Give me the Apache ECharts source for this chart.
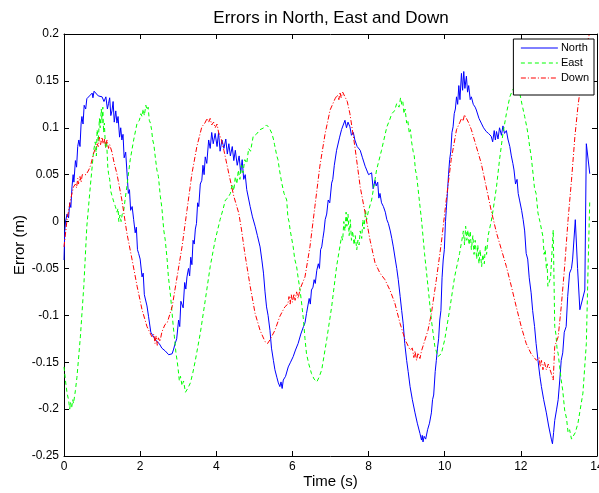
<!DOCTYPE html>
<html>
<head>
<meta charset="utf-8">
<script src="https://cdn.jsdelivr.net/npm/echarts@6/dist/echarts.min.js"></script>
<style>
  html, body { margin: 0; padding: 0; background: #fff; }
  #chart { width: 599px; height: 493px; }
</style>
</head>
<body>
<div id="chart"></div>
<script>
// ---- Data (time in s, error in m) ----
const xTicks = [0, 2, 4, 6, 8, 10, 12, 14];
const yTicks = [-0.25, -0.2, -0.15, -0.1, -0.05, 0, 0.05, 0.1, 0.15, 0.2];
const seriesNames = ['North', 'East', 'Down'];
const titleText = 'Errors in North, East and Down';

const north = [[0,-0.041],[0.02,-0.01],[0.04,0.0],[0.08,0.008],[0.12,0.004],[0.15,0.02],[0.18,0.015],[0.21,0.037],[0.24,0.05],[0.26,0.042],[0.3,0.065],[0.33,0.058],[0.36,0.08],[0.39,0.087],[0.42,0.08],[0.45,0.105],[0.47,0.112],[0.5,0.104],[0.53,0.124],[0.57,0.12],[0.6,0.131],[0.67,0.134],[0.74,0.137],[0.76,0.132],[0.79,0.139],[0.82,0.137],[0.9,0.134],[1.0,0.133],[1.05,0.128],[1.1,0.133],[1.14,0.12],[1.17,0.126],[1.2,0.132],[1.23,0.113],[1.26,0.118],[1.29,0.128],[1.32,0.106],[1.36,0.118],[1.39,0.105],[1.42,0.112],[1.46,0.09],[1.49,0.1],[1.52,0.087],[1.55,0.093],[1.58,0.068],[1.62,0.074],[1.65,0.055],[1.69,0.030],[1.72,0.034],[1.75,0.012],[1.79,0.016],[1.83,0.002],[1.87,-0.012],[1.9,-0.006],[1.93,-0.03],[1.96,-0.034],[2.0,-0.04],[2.05,-0.059],[2.08,-0.055],[2.11,-0.078],[2.14,-0.076],[2.18,-0.09],[2.22,-0.101],[2.25,-0.1],[2.28,-0.118],[2.31,-0.116],[2.37,-0.124],[2.44,-0.128],[2.5,-0.13],[2.57,-0.135],[2.66,-0.138],[2.75,-0.142],[2.8,-0.14],[2.84,-0.141],[2.88,-0.136],[2.92,-0.13],[2.96,-0.125],[3.01,-0.105],[3.04,-0.112],[3.07,-0.085],[3.1,-0.084],[3.13,-0.092],[3.17,-0.065],[3.2,-0.072],[3.23,-0.059],[3.27,-0.05],[3.3,-0.058],[3.33,-0.038],[3.36,-0.046],[3.39,-0.02],[3.42,-0.024],[3.45,-0.008],[3.48,-0.002],[3.51,0.02],[3.54,0.016],[3.58,0.04],[3.62,0.044],[3.65,0.06],[3.68,0.05],[3.71,0.069],[3.75,0.062],[3.8,0.087],[3.84,0.078],[3.88,0.095],[3.92,0.083],[3.97,0.094],[4.02,0.08],[4.06,0.095],[4.1,0.075],[4.15,0.087],[4.2,0.078],[4.25,0.088],[4.29,0.072],[4.33,0.083],[4.37,0.07],[4.42,0.08],[4.46,0.065],[4.5,0.076],[4.55,0.06],[4.6,0.07],[4.64,0.052],[4.68,0.066],[4.72,0.045],[4.76,0.05],[4.8,0.034],[4.84,0.036],[4.89,0.016],[4.95,0.005],[5.02,-0.005],[5.08,-0.015],[5.15,-0.027],[5.2,-0.042],[5.24,-0.055],[5.28,-0.075],[5.32,-0.091],[5.36,-0.1],[5.41,-0.116],[5.45,-0.135],[5.5,-0.148],[5.54,-0.158],[5.59,-0.166],[5.63,-0.172],[5.67,-0.176],[5.7,-0.171],[5.73,-0.178],[5.76,-0.169],[5.82,-0.165],[5.89,-0.155],[5.95,-0.15],[6.02,-0.144],[6.08,-0.137],[6.15,-0.13],[6.22,-0.12],[6.29,-0.112],[6.33,-0.108],[6.37,-0.098],[6.4,-0.1],[6.44,-0.082],[6.47,-0.088],[6.5,-0.073],[6.54,-0.07],[6.57,-0.062],[6.6,-0.066],[6.64,-0.052],[6.68,-0.045],[6.71,-0.05],[6.74,-0.03],[6.77,-0.027],[6.8,-0.018],[6.83,-0.01],[6.86,0.002],[6.9,0.008],[6.94,0.023],[6.98,0.02],[7.03,0.041],[7.06,0.045],[7.1,0.06],[7.13,0.058],[7.16,0.076],[7.2,0.078],[7.24,0.09],[7.29,0.098],[7.33,0.1],[7.38,0.108],[7.42,0.1],[7.46,0.106],[7.51,0.101],[7.55,0.092],[7.6,0.095],[7.64,0.087],[7.7,0.08],[7.78,0.076],[7.84,0.068],[7.91,0.059],[7.95,0.055],[8.0,0.05],[8.04,0.048],[8.08,0.052],[8.12,0.035],[8.17,0.044],[8.2,0.038],[8.24,0.042],[8.27,0.025],[8.3,0.030],[8.34,0.02],[8.39,0.016],[8.44,0.01],[8.48,0.002],[8.52,-0.002],[8.57,-0.01],[8.61,-0.018],[8.65,-0.027],[8.7,-0.04],[8.74,-0.05],[8.78,-0.062],[8.83,-0.08],[8.87,-0.095],[8.91,-0.109],[8.95,-0.13],[9.0,-0.148],[9.04,-0.16],[9.09,-0.176],[9.15,-0.19],[9.22,-0.204],[9.28,-0.215],[9.35,-0.226],[9.39,-0.233],[9.41,-0.228],[9.43,-0.235],[9.46,-0.229],[9.5,-0.232],[9.55,-0.222],[9.6,-0.215],[9.65,-0.204],[9.68,-0.19],[9.71,-0.185],[9.75,-0.16],[9.78,-0.148],[9.81,-0.135],[9.84,-0.125],[9.87,-0.105],[9.9,-0.095],[9.93,-0.06],[9.96,-0.041],[9.99,-0.03],[10.02,0.0],[10.04,0.012],[10.07,0.03],[10.1,0.05],[10.13,0.066],[10.16,0.075],[10.19,0.095],[10.22,0.101],[10.25,0.115],[10.28,0.12],[10.31,0.133],[10.34,0.125],[10.37,0.145],[10.4,0.13],[10.44,0.158],[10.47,0.14],[10.5,0.16],[10.53,0.142],[10.57,0.155],[10.6,0.138],[10.63,0.145],[10.67,0.13],[10.7,0.133],[10.75,0.125],[10.8,0.122],[10.83,0.119],[10.9,0.11],[10.96,0.105],[11.02,0.1],[11.09,0.096],[11.15,0.094],[11.22,0.091],[11.26,0.085],[11.3,0.097],[11.33,0.087],[11.36,0.096],[11.4,0.088],[11.44,0.1],[11.49,0.092],[11.53,0.102],[11.57,0.094],[11.62,0.097],[11.66,0.088],[11.71,0.080],[11.75,0.07],[11.79,0.062],[11.82,0.055],[11.86,0.04],[11.9,0.045],[11.93,0.030],[11.97,0.022],[12.02,0.012],[12.06,0.002],[12.1,-0.01],[12.14,-0.034],[12.18,-0.04],[12.22,-0.06],[12.27,-0.076],[12.31,-0.095],[12.36,-0.112],[12.4,-0.13],[12.45,-0.148],[12.5,-0.165],[12.54,-0.176],[12.6,-0.19],[12.67,-0.204],[12.73,-0.218],[12.8,-0.232],[12.83,-0.237],[12.86,-0.225],[12.89,-0.212],[12.94,-0.2],[12.98,-0.19],[13.02,-0.17],[13.06,-0.148],[13.1,-0.14],[13.14,-0.118],[13.19,-0.112],[13.23,-0.08],[13.28,-0.055],[13.33,-0.05],[13.36,-0.04],[13.43,0.002],[13.49,-0.05],[13.55,-0.094],[13.68,-0.073],[13.72,0.083],[13.81,0.051]];

const east = [[0,-0.155],[0.04,-0.17],[0.08,-0.183],[0.12,-0.19],[0.15,-0.2],[0.17,-0.193],[0.2,-0.199],[0.23,-0.19],[0.25,-0.194],[0.3,-0.18],[0.34,-0.166],[0.43,-0.123],[0.52,-0.069],[0.6,-0.005],[0.69,0.037],[0.78,0.076],[0.82,0.085],[0.85,0.07],[0.87,0.098],[0.9,0.085],[0.93,0.11],[0.95,0.1],[0.98,0.12],[1.0,0.105],[1.02,0.122],[1.04,0.095],[1.06,0.105],[1.09,0.078],[1.12,0.085],[1.15,0.058],[1.17,0.051],[1.2,0.045],[1.23,0.032],[1.26,0.03],[1.3,0.022],[1.35,0.016],[1.39,0.01],[1.42,0.014],[1.44,0.0],[1.47,0.007],[1.5,0.0],[1.53,0.008],[1.57,0.012],[1.61,0.025],[1.65,0.037],[1.74,0.066],[1.83,0.087],[1.92,0.105],[1.98,0.108],[2.02,0.115],[2.05,0.112],[2.08,0.12],[2.11,0.113],[2.15,0.124],[2.18,0.119],[2.21,0.122],[2.24,0.108],[2.27,0.105],[2.3,0.098],[2.33,0.087],[2.36,0.082],[2.4,0.068],[2.44,0.055],[2.48,0.048],[2.53,0.027],[2.57,0.015],[2.62,-0.009],[2.66,-0.02],[2.71,-0.041],[2.74,-0.058],[2.77,-0.069],[2.8,-0.08],[2.84,-0.098],[2.87,-0.112],[2.9,-0.123],[2.94,-0.14],[2.97,-0.148],[3.0,-0.158],[3.03,-0.17],[3.06,-0.165],[3.1,-0.175],[3.14,-0.17],[3.19,-0.182],[3.25,-0.178],[3.32,-0.172],[3.38,-0.162],[3.45,-0.148],[3.58,-0.119],[3.71,-0.084],[3.84,-0.048],[3.97,-0.02],[4.1,0.002],[4.17,0.012],[4.24,0.023],[4.3,0.025],[4.37,0.03],[4.42,0.04],[4.46,0.033],[4.5,0.048],[4.54,0.04],[4.58,0.055],[4.62,0.045],[4.66,0.06],[4.7,0.052],[4.75,0.066],[4.8,0.062],[4.85,0.078],[4.9,0.075],[4.97,0.091],[5.05,0.093],[5.15,0.098],[5.25,0.1],[5.32,0.103],[5.39,0.1],[5.46,0.094],[5.5,0.088],[5.53,0.082],[5.56,0.08],[5.59,0.07],[5.62,0.066],[5.66,0.055],[5.72,0.041],[5.78,0.03],[5.85,0.023],[5.88,0.005],[5.91,0.0],[5.94,-0.009],[6.02,-0.027],[6.06,-0.04],[6.11,-0.048],[6.15,-0.06],[6.2,-0.073],[6.25,-0.09],[6.29,-0.105],[6.33,-0.125],[6.37,-0.141],[6.43,-0.152],[6.5,-0.162],[6.57,-0.168],[6.64,-0.171],[6.7,-0.166],[6.77,-0.158],[6.9,-0.126],[7.03,-0.091],[7.16,-0.048],[7.29,-0.016],[7.32,-0.02],[7.35,0.0],[7.38,-0.01],[7.41,0.01],[7.43,-0.005],[7.46,0.008],[7.49,-0.015],[7.52,0.002],[7.55,-0.02],[7.58,-0.01],[7.62,-0.025],[7.65,-0.015],[7.69,-0.03],[7.72,-0.02],[7.75,-0.025],[7.78,-0.01],[7.82,-0.018],[7.85,0.002],[7.88,-0.008],[7.92,0.012],[7.95,0.002],[8.0,0.012],[8.08,0.023],[8.21,0.055],[8.34,0.076],[8.48,0.101],[8.55,0.108],[8.61,0.115],[8.68,0.118],[8.74,0.126],[8.8,0.122],[8.84,0.132],[8.87,0.125],[8.9,0.128],[8.93,0.115],[8.96,0.12],[9.0,0.105],[9.03,0.108],[9.07,0.094],[9.1,0.098],[9.13,0.085],[9.17,0.075],[9.2,0.07],[9.23,0.055],[9.26,0.05],[9.3,0.035],[9.34,0.02],[9.39,0.002],[9.47,-0.034],[9.56,-0.069],[9.65,-0.105],[9.74,-0.133],[9.82,-0.144],[9.91,-0.141],[10.0,-0.126],[10.13,-0.094],[10.26,-0.059],[10.39,-0.034],[10.45,-0.02],[10.49,-0.01],[10.52,-0.025],[10.55,-0.005],[10.58,-0.02],[10.61,-0.009],[10.64,-0.025],[10.67,-0.01],[10.7,-0.03],[10.74,-0.015],[10.77,-0.035],[10.8,-0.02],[10.84,-0.04],[10.87,-0.025],[10.9,-0.045],[10.93,-0.03],[10.97,-0.048],[11.0,-0.035],[11.04,-0.045],[11.07,-0.025],[11.1,-0.035],[11.14,-0.015],[11.18,-0.016],[11.22,0.0],[11.27,0.012],[11.36,0.037],[11.44,0.066],[11.53,0.094],[11.62,0.115],[11.71,0.133],[11.78,0.14],[11.84,0.144],[11.9,0.143],[11.97,0.137],[12.03,0.125],[12.1,0.112],[12.16,0.1],[12.2,0.09],[12.23,0.08],[12.27,0.07],[12.32,0.051],[12.36,0.035],[12.4,0.03],[12.45,0.009],[12.5,0.0],[12.54,-0.008],[12.58,-0.016],[12.61,-0.035],[12.64,-0.03],[12.67,-0.05],[12.69,-0.045],[12.71,-0.069],[12.78,-0.06],[12.85,-0.009],[12.89,-0.112],[12.92,-0.12],[12.95,-0.135],[12.98,-0.141],[13.02,-0.155],[13.06,-0.169],[13.1,-0.18],[13.15,-0.201],[13.2,-0.21],[13.24,-0.225],[13.28,-0.222],[13.33,-0.232],[13.37,-0.232],[13.43,-0.225],[13.5,-0.215],[13.63,-0.183],[13.72,-0.13],[13.76,-0.059],[13.81,0.023]];

const down = [[0,-0.027],[0.08,0.002],[0.17,0.023],[0.25,0.037],[0.3,0.04],[0.33,0.036],[0.36,0.046],[0.38,0.04],[0.42,0.048],[0.45,0.042],[0.48,0.05],[0.52,0.048],[0.58,0.05],[0.65,0.055],[0.7,0.06],[0.78,0.073],[0.82,0.075],[0.87,0.083],[0.9,0.08],[0.93,0.09],[0.96,0.082],[1.0,0.09],[1.03,0.083],[1.06,0.088],[1.09,0.08],[1.13,0.087],[1.17,0.078],[1.2,0.082],[1.26,0.074],[1.32,0.062],[1.39,0.051],[1.52,0.023],[1.65,-0.012],[1.79,-0.041],[1.92,-0.069],[2.05,-0.094],[2.18,-0.112],[2.25,-0.118],[2.31,-0.123],[2.36,-0.12],[2.39,-0.13],[2.42,-0.122],[2.45,-0.132],[2.48,-0.124],[2.52,-0.128],[2.57,-0.118],[2.61,-0.12],[2.65,-0.11],[2.71,-0.108],[2.84,-0.091],[2.97,-0.059],[3.1,-0.027],[3.23,0.012],[3.36,0.051],[3.49,0.08],[3.62,0.101],[3.7,0.105],[3.76,0.11],[3.8,0.106],[3.84,0.11],[3.88,0.103],[3.93,0.106],[3.97,0.1],[4.02,0.104],[4.06,0.095],[4.13,0.088],[4.2,0.076],[4.33,0.051],[4.46,0.027],[4.59,0.009],[4.66,-0.008],[4.75,-0.034],[4.89,-0.069],[5.02,-0.098],[5.15,-0.116],[5.28,-0.128],[5.35,-0.13],[5.41,-0.126],[5.54,-0.116],[5.67,-0.101],[5.8,-0.091],[5.88,-0.088],[5.91,-0.08],[5.94,-0.088],[5.97,-0.078],[6.0,-0.086],[6.04,-0.077],[6.07,-0.084],[6.11,-0.075],[6.15,-0.082],[6.2,-0.072],[6.25,-0.07],[6.33,-0.059],[6.46,-0.027],[6.59,0.016],[6.72,0.059],[6.86,0.094],[6.99,0.119],[7.12,0.131],[7.18,0.135],[7.22,0.13],[7.25,0.138],[7.28,0.132],[7.32,0.138],[7.38,0.133],[7.44,0.128],[7.51,0.115],[7.64,0.08],[7.78,0.037],[7.91,0.009],[8.04,-0.02],[8.17,-0.044],[8.3,-0.055],[8.43,-0.062],[8.56,-0.073],[8.69,-0.087],[8.83,-0.109],[8.96,-0.126],[9.09,-0.137],[9.15,-0.135],[9.19,-0.145],[9.22,-0.138],[9.26,-0.148],[9.3,-0.14],[9.35,-0.146],[9.39,-0.138],[9.43,-0.136],[9.56,-0.116],[9.65,-0.098],[9.78,-0.062],[9.91,-0.023],[10.04,0.023],[10.17,0.066],[10.31,0.098],[10.4,0.106],[10.44,0.11],[10.48,0.107],[10.52,0.114],[10.57,0.11],[10.62,0.106],[10.7,0.098],[10.83,0.08],[10.96,0.062],[11.09,0.037],[11.22,0.012],[11.36,-0.012],[11.49,-0.03],[11.62,-0.048],[11.75,-0.069],[11.88,-0.091],[12.01,-0.112],[12.14,-0.13],[12.27,-0.141],[12.41,-0.148],[12.48,-0.145],[12.51,-0.155],[12.54,-0.148],[12.58,-0.158],[12.62,-0.15],[12.67,-0.158],[12.72,-0.152],[12.8,-0.162],[12.85,-0.169],[12.89,-0.133],[12.98,-0.123],[13.06,-0.091],[13.15,-0.048],[13.24,0.002],[13.33,0.044],[13.42,0.091],[13.5,0.123],[13.59,0.151],[13.68,0.18],[13.8,0.2]];

// ---- Chart ----
const FONT = 'Liberation Sans, Arial, Helvetica, sans-serif';
const fmt = v => String(parseFloat(v.toFixed(2)));
const chart = echarts.init(document.getElementById('chart'), null, { renderer: 'canvas' });

const axisCommon = {
  type: 'value',
  axisLine: { show: true, onZero: false, lineStyle: { color: '#000', width: 1 } },
  axisTick: { show: true, inside: true, length: 5, lineStyle: { color: '#000' } },
  splitLine: { show: false },
};

chart.setOption({
  animation: false,
  backgroundColor: '#fff',
  textStyle: { fontFamily: FONT },
  graphic: [{
    type: 'text', x: 331, y: 18, z: 10,
    style: { text: titleText, textAlign: 'center', textVerticalAlign: 'middle',
             font: '17px ' + FONT, fill: '#000' }
  }],
  grid: { left: 64, right: 2, top: 34, bottom: 37, containLabel: false, outerBoundsMode: 'none' },
  legend: {
    data: seriesNames,
    orient: 'vertical',
    right: 5, top: 39,
    z: 20,
    backgroundColor: '#fff',
    borderColor: '#000', borderWidth: 1,
    padding: [3, 5, 11, 7],
    itemWidth: 37, itemHeight: 12, itemGap: 3,
    itemStyle: { opacity: 0, borderWidth: 0 },
    lineStyle: { width: 1 },
    textStyle: { fontFamily: FONT, fontSize: 11, lineHeight: 12, color: '#000', padding: [0, 0, 0, -2] }
  },
  xAxis: [
    Object.assign({}, axisCommon, {
      position: 'bottom', min: xTicks[0], max: xTicks[xTicks.length - 1], interval: xTicks[1] - xTicks[0],
      axisLabel: { color: '#000', fontSize: 12, fontFamily: FONT, margin: 5, showMaxLabel: true },
      name: 'Time (s)', nameLocation: 'middle', nameGap: 18, nameMoveOverlap: false,
      nameTextStyle: { fontFamily: FONT, fontSize: 15, color: '#000' }
    }),
    Object.assign({}, axisCommon, {
      position: 'top', min: xTicks[0], max: xTicks[xTicks.length - 1], interval: xTicks[1] - xTicks[0],
      axisLabel: { show: false }
    })
  ],
  yAxis: [
    Object.assign({}, axisCommon, {
      position: 'left', min: yTicks[0], max: yTicks[yTicks.length - 1], interval: yTicks[1] - yTicks[0],
      axisLabel: { color: '#000', fontSize: 12, fontFamily: FONT, margin: 5, formatter: fmt },
      name: 'Error (m)', nameLocation: 'middle', nameGap: 37, nameMoveOverlap: false,
      nameTextStyle: { fontFamily: FONT, fontSize: 15, color: '#000' }
    }),
    Object.assign({}, axisCommon, {
      position: 'right', min: yTicks[0], max: yTicks[yTicks.length - 1], interval: yTicks[1] - yTicks[0],
      axisLabel: { show: false }
    })
  ],
  series: [
    { name: seriesNames[0], type: 'line', data: north, showSymbol: false, symbol: 'none',
      lineStyle: { color: '#0000ff', width: 1, type: 'solid' }, itemStyle: { color: '#0000ff' } },
    { name: seriesNames[1], type: 'line', data: east, showSymbol: false, symbol: 'none',
      lineStyle: { color: '#00ff00', width: 1, type: [4, 3] }, itemStyle: { color: '#00ff00' } },
    { name: seriesNames[2], type: 'line', data: down, showSymbol: false, symbol: 'none',
      lineStyle: { color: '#ff0000', width: 1, type: [5, 2, 1, 2] }, itemStyle: { color: '#ff0000' } }
  ]
});
</script>
</body>
</html>
